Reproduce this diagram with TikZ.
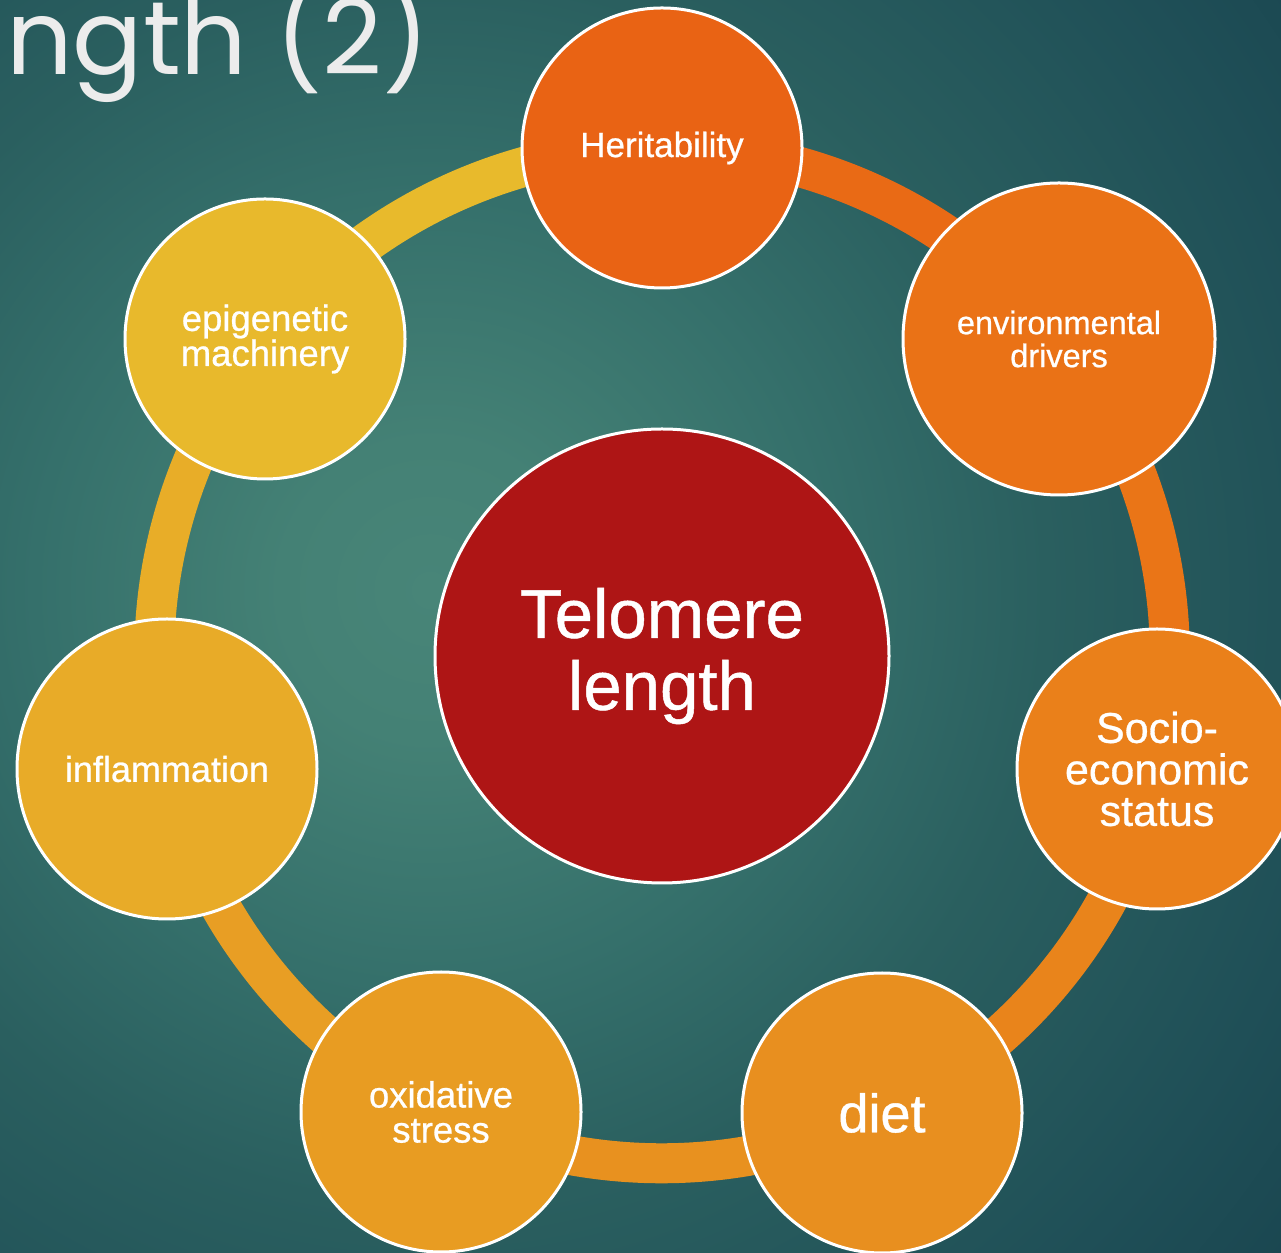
\documentclass[tikz,border=0pt]{standalone}
\usepackage{fontspec}
\setmainfont[FakeBold=0.7]{Liberation Sans}
\newfontfamily\titlefont{Poppins}
\definecolor{bgA}{HTML}{488578}
\definecolor{bgB}{HTML}{448175}
\definecolor{bgC}{HTML}{35706B}
\definecolor{bgD}{HTML}{2A5F5F}
\definecolor{bgE}{HTML}{1F4F57}
\definecolor{bgF}{HTML}{1A4650}
\definecolor{titlegray}{HTML}{ECECEC}
\definecolor{cHer}{HTML}{E96314}
\definecolor{cEnv}{HTML}{EA7216}
\definecolor{cSoc}{HTML}{EA801A}
\definecolor{cDiet}{HTML}{E88F1F}
\definecolor{cOxi}{HTML}{E89C22}
\definecolor{cInf}{HTML}{E8AB28}
\definecolor{cEpi}{HTML}{E8B92C}
\definecolor{sA}{HTML}{E96A15}
\definecolor{sB}{HTML}{EA7517}
\definecolor{sC}{HTML}{E9841B}
\definecolor{sD}{HTML}{E8911F}
\definecolor{sE}{HTML}{E89E24}
\definecolor{sF}{HTML}{E8AD28}
\definecolor{sG}{HTML}{E8BA2C}
\definecolor{cCenter}{HTML}{AE1515}
% the path's radius corresponds to 25bp of the shading
\pgfdeclareradialshading{bgshade}{\pgfpoint{0bp}{0bp}}{color(0bp)=(bgA); color(3.4bp)=(bgB); color(9bp)=(bgC); color(14bp)=(bgD); color(21bp)=(bgE); color(25bp)=(bgF); color(50bp)=(bgF)}
\tikzset{
  bub/.style={circle, draw=white, line width=3pt, inner sep=0pt, minimum size=#1, align=center, text=white},
  ringseg/.style={line width=40pt, line cap=butt}
}
\newcommand{\fs}[2]{\fontsize{#1}{#2}\selectfont}
\begin{document}
\begin{tikzpicture}[x=1pt,y=1pt]
\useasboundingbox (0,0) rectangle (1281,1252);
\begin{scope}
\clip (0,0) rectangle (1281,1252);
\fill[bgF] (0,0) rectangle (1281,1252);
\shade[shading=bgshade] (430,662) circle (1100);
\end{scope}
\node[anchor=base west, inner sep=0pt, text=titlegray, font=\titlefont\fs{104}{104}] (title) at (6,1177) {ngth (2)};
% node anchors (centers)
\coordinate (C) at (662,596);
\coordinate (pHer) at (662,1104);
\coordinate (pEnv) at (1059,913);
\coordinate (pSoc) at (1157,483);
\coordinate (pDiet) at (882,139);
\coordinate (pOxi) at (441,140);
\coordinate (pInf) at (167,483);
\coordinate (pEpi) at (265,913);
% ring segments
\draw[ringseg, draw=sA] (pHer) arc[start angle=90, end angle=38.571, radius=508];
\draw[ringseg, draw=sB] (pEnv) arc[start angle=38.571, end angle=-12.857, radius=508];
\draw[ringseg, draw=sC] (pSoc) arc[start angle=-12.857, end angle=-64.286, radius=508];
\draw[ringseg, draw=sD] (pDiet) arc[start angle=-64.286, end angle=-115.714, radius=508];
\draw[ringseg, draw=sE] (pOxi) arc[start angle=-115.714, end angle=-167.143, radius=508];
\draw[ringseg, draw=sF] (pInf) arc[start angle=-167.143, end angle=-218.571, radius=508];
\draw[ringseg, draw=sG] (pEpi) arc[start angle=141.429, end angle=90, radius=508];
% circles
\node[bub=454, fill=cCenter, font=\fs{69}{72}] (center) at (C) {Telomere\\length};
\node[bub=280, fill=cHer, font=\fs{35}{36}] (her) at (pHer) {Heritability};
\node[bub=312, fill=cEnv, font=\fs{32.5}{33}] (env) at (pEnv) {environmental\\drivers};
\node[bub=280, fill=cSoc, font=\fs{43}{41.5}] (soc) at (pSoc) {Socio-\\economic\\status};
\node[bub=280, fill=cDiet, font=\fs{54}{54}] (diet) at (pDiet) {diet};
\node[bub=280, fill=cOxi, font=\fs{36.5}{35}] (oxi) at (pOxi) {oxidative\\stress};
\node[bub=300, fill=cInf, font=\fs{36}{38}] (inf) at (pInf) {inflammation};
\node[bub=280, fill=cEpi, font=\fs{36.5}{34}] (epi) at (pEpi) {epigenetic\\machinery};
\end{tikzpicture}
\end{document}
